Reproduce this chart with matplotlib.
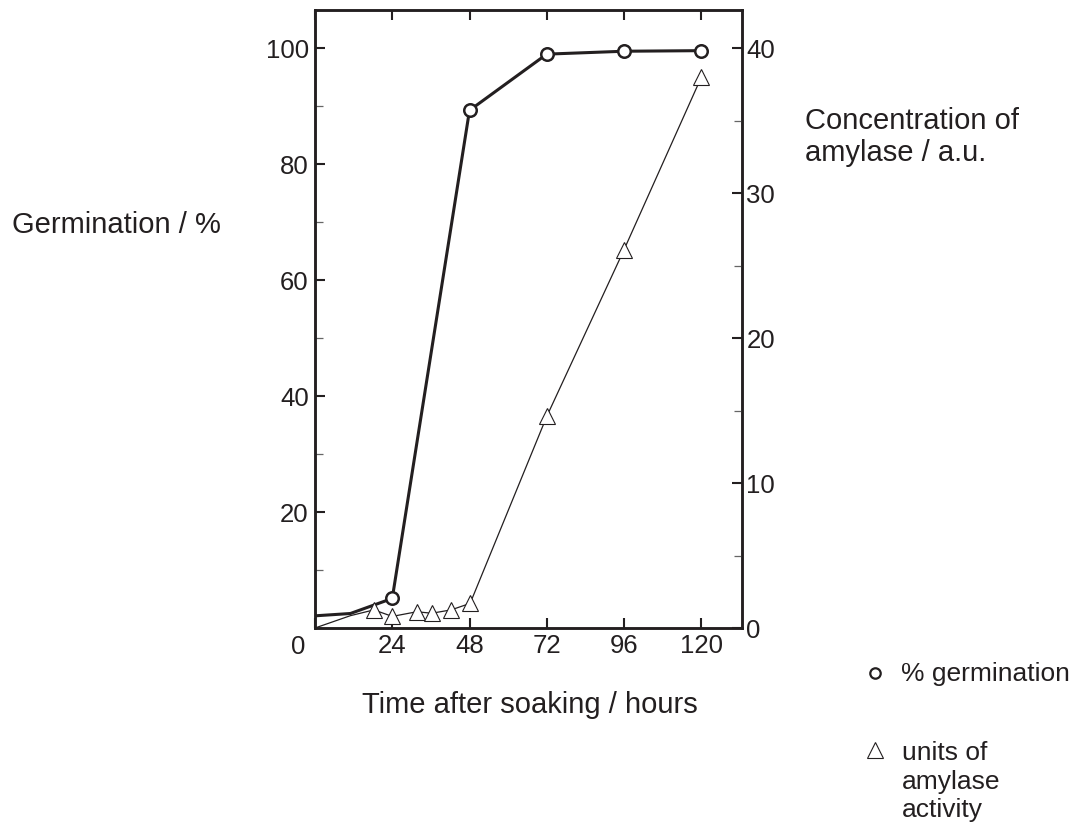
import numpy as np
import matplotlib
matplotlib.use('Agg')
import matplotlib.pyplot as plt
from matplotlib.ticker import MultipleLocator

plt.rcParams['font.family'] = ['Liberation Sans', 'DejaVu Sans']
ink = '#231f20'

# germination (left axis, %) - first two points are line only
germ_hours = [0, 11, 24, 48, 72, 96, 120]
germ_pct = [2.1, 2.5, 5.1, 89.3, 99.0, 99.5, 99.6]
germ_marked = [2, 3, 4, 5, 6]

# amylase (right axis, a.u.) - first two points are line only
amyl_hours = [0, 11, 18.3, 24, 31.6, 36.3, 42.3, 48.2, 72, 96, 120]
amyl_conc = [0.0, 0.85, 1.25, 0.8, 1.12, 1.02, 1.25, 1.7, 14.6, 26.1, 38.0]
amyl_marked = [2, 3, 4, 5, 6, 7, 8, 9, 10]

x_ticks = [0, 24, 48, 72, 96, 120]

W, H = 1081, 832
fig = plt.figure(figsize=(W / 100, H / 100), dpi=100)
ax = fig.add_axes([315 / W, 1 - 628 / H, (741.5 - 315) / W, (628 - 9.5) / H])
ax2 = ax.twinx()

ax.plot(germ_hours, germ_pct, color=ink, lw=2.2, marker='o', markevery=germ_marked,
        ms=9, mfc='white', mec=ink, mew=1.8, zorder=3)
ax2.plot(amyl_hours, amyl_conc, color=ink, lw=0.9, marker='^', markevery=amyl_marked,
         ms=11, mfc='white', mec=ink, mew=0.8, zorder=2)

ax.set_xlim(0, 132.5)
ax.set_ylim(0, 106.7)
ax2.set_ylim(0, 42.68)

ax.set_xticks(x_ticks)
ax.set_xticklabels([''] + [str(v) for v in x_ticks[1:]])
ax.annotate('0', xy=(0, 0), xycoords='axes fraction', xytext=(-10, -7),
            textcoords='offset pixels', ha='right', va='top', fontsize=18.5, color=ink)
ax.set_yticks([20, 40, 60, 80, 100])
ax.yaxis.set_minor_locator(MultipleLocator(10))
ax2.set_yticks([0, 10, 20, 30, 40])
ax2.yaxis.set_minor_locator(MultipleLocator(5))

for a in (ax, ax2):
    for s in a.spines.values():
        s.set_linewidth(1.8)
        s.set_color(ink)
ax.tick_params(axis='both', which='major', direction='in', length=7.5, width=1.5,
               colors=ink, labelsize=18.5, pad=4.5, top=True)
ax.tick_params(axis='y', which='minor', direction='in', length=6, width=0.9, colors='#666666')
ax2.tick_params(axis='y', which='major', direction='in', length=7, width=1.5,
                colors=ink, labelsize=18.5, pad=3.5)
ax2.tick_params(axis='y', which='minor', direction='in', length=6, width=0.9, colors='#666666')

fs = 21
fig.text(12 / W, 1 - 233 / H, 'Germination / %', fontsize=fs, color=ink,
         ha='left', va='baseline')
fig.text(805 / W, 1 - 129 / H, 'Concentration of', fontsize=fs, color=ink,
         ha='left', va='baseline')
fig.text(805 / W, 1 - 161 / H, 'amylase / a.u.', fontsize=fs, color=ink,
         ha='left', va='baseline')
fig.text(530 / W, 1 - 713 / H, 'Time after soaking / hours', fontsize=fs,
         color=ink, ha='center', va='baseline')

# legend
lfs = 19
fig.lines.append(plt.Line2D([875 / W], [1 - 673 / H], transform=fig.transFigure,
                            marker='o', ms=7.5, mfc='white', mec=ink, mew=1.6, ls=''))
fig.text(901 / W, 1 - 681 / H, '% germination', fontsize=lfs, color=ink,
         ha='left', va='baseline')
fig.lines.append(plt.Line2D([875 / W], [1 - 750 / H], transform=fig.transFigure,
                            marker='^', ms=11, mfc='white', mec=ink, mew=0.8, ls=''))
legend_lines = ['units of', 'amylase', 'activity']
for i, t in enumerate(legend_lines):
    fig.text(902 / W, 1 - (760 + 28.5 * i) / H, t, fontsize=lfs, color=ink,
             ha='left', va='baseline')

fig.savefig('out.png', dpi=100)
